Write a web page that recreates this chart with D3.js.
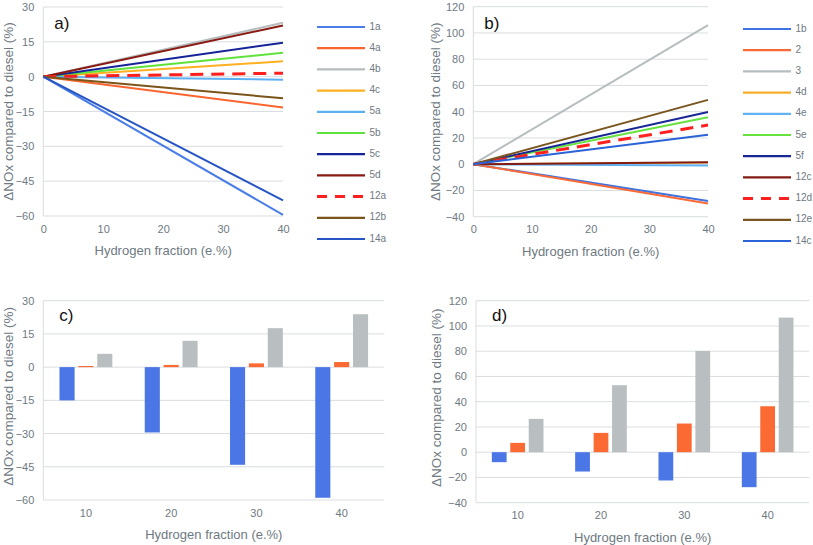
<!DOCTYPE html>
<html><head><meta charset="utf-8">
<script src="https://cdn.jsdelivr.net/npm/d3@7"></script>
<style>
body{margin:0;background:#fff;}
text{font-family:"Liberation Sans",Arial,sans-serif;}
</style>
</head><body>
<svg id="chart" width="813" height="545"></svg>
<script>
// ---------- DATA ----------
const fractionX = [0, 40];
const seriesA = ["1a","4a","4b","4c","5a","5b","5c","5d","12a","12b","14a"];
const valuesA = [[0,-59.5],[0,-13.3],[0,23.2],[0,6.6],[0,-1.3],[0,10.3],[0,14.6],[0,22.0],[0,1.5],[0,-9.3],[0,-53.3]];
const seriesB = ["1b","2","3","4d","4e","5e","5f","12c","12d","12e","14c"];
const valuesB = [[0,-28.0],[0,-30.0],[0,106.0],[0,1.2],[0,-1.0],[0,35.8],[0,39.8],[0,1.5],[0,29.8],[0,49.0],[0,22.5]];
const xTicksLine = [0,10,20,30,40];
const yTicksA = [-60,-45,-30,-15,0,15,30];
const yTicksB = [-40,-20,0,20,40,60,80,100,120];

const barCategories = ["10","20","30","40"];
const barSeries = ["blue","orange","gray"];
const blueC = [-15.0,-29.5,-44.1,-59.0];
const orangeC = [0.5,1.0,1.7,2.3];
const grayC = [6.0,11.9,17.6,23.9];
const blueD = [-7.9,-15.3,-22.4,-27.7];
const orangeD = [7.4,15.3,22.7,36.4];
const grayD = [26.4,53.1,80.2,106.6];

// ---------- STYLES ----------
const colorsA = ["#4a7de8","#f9652e","#b5bdbf","#ffb020","#5cb0f2","#5fe23a","#16249a","#8a1a12","#ff1f1f","#7a5418","#2655c4"];
const colorsB = ["#3f73e2","#fa6a36","#b5bdbf","#f6ae28","#62b2f2","#66e23e","#182696","#821c12","#ff1f1f","#7a5520","#2a62d8"];
const dashedA = "12a", dashedB = "12d";
const barColors = ["#4a76e6","#fb6a32","#b9bfc0"];
const txt = "#6e7982", grid = "#d9dde0";

const svg = d3.select("#chart");

function axesCommon(g, x0, x1, y, yTicks){
  g.selectAll(".grid").data(yTicks).join("line")
    .attr("x1", x0).attr("x2", x1)
    .attr("y1", d => y(d)).attr("y2", d => y(d))
    .attr("stroke", grid).attr("stroke-width", 1);
  g.append("line").attr("x1", x0).attr("x2", x0)
    .attr("y1", y(yTicks[0])).attr("y2", y(yTicks[yTicks.length-1]))
    .attr("stroke", grid);
  const ax = g.append("g").attr("transform", `translate(${x0},0)`)
    .call(d3.axisLeft(y).tickValues(yTicks).tickSize(0).tickPadding(9));
  ax.select(".domain").remove();
  ax.selectAll("text").attr("fill", txt).style("font-size","11px")
    .style("font-family","'Liberation Sans',Arial,sans-serif");
}

function titles(g, cx, xTitleY, yTitleX, cy, label, lx, ly){
  g.append("text").attr("x", cx).attr("y", xTitleY).attr("text-anchor","middle")
    .attr("dominant-baseline","middle").attr("fill", txt).style("font-size","13px")
    .text("Hydrogen fraction (e.%)");
  g.append("text").attr("transform", `translate(${yTitleX},${cy}) rotate(-90)`)
    .attr("text-anchor","middle").attr("dominant-baseline","middle")
    .attr("fill", txt).style("font-size","13.5px")
    .text("ΔNOx compared to diesel (%)");
  g.append("text").attr("x", lx).attr("y", ly).attr("fill","#111")
    .style("font-size","17px").text(label);
}

function linePanel(opts){
  const g = svg.append("g");
  const x = d3.scaleLinear().domain([0,40]).range([opts.x0, opts.x1]);
  const y = d3.scaleLinear().domain([opts.yTicks[0], opts.yTicks[opts.yTicks.length-1]]).range([opts.yb, opts.yt]);
  axesCommon(g, opts.x0, opts.x1, y, opts.yTicks);
  const xa = g.append("g").attr("transform", `translate(0,${opts.yb})`)
    .call(d3.axisBottom(x).tickValues(xTicksLine).tickSize(0).tickPadding(9));
  xa.select(".domain").remove();
  xa.selectAll("text").attr("fill", txt).style("font-size","11px")
    .style("font-family","'Liberation Sans',Arial,sans-serif");
  const line = d3.line().x((d,i) => x(fractionX[i])).y(d => y(d));
  opts.series.forEach((s, i) => {
    g.append("path").datum(opts.values[i]).attr("d", line)
      .attr("fill","none").attr("stroke", opts.colors[i])
      .attr("stroke-width", s === opts.dashed ? 3 : 2)
      .attr("stroke-dasharray", s === opts.dashed ? "13,8" : null);
  });
  // legend
  const lg = g.append("g");
  opts.series.forEach((s, i) => {
    const yy = opts.legY + i * opts.legStep;
    lg.append("line").attr("x1", opts.legX).attr("x2", opts.legX + 48)
      .attr("y1", yy).attr("y2", yy).attr("stroke", opts.colors[i])
      .attr("stroke-width", s === opts.dashed ? 3 : 2.2)
      .attr("stroke-dasharray", s === opts.dashed ? "10,8" : null);
    lg.append("text").attr("x", opts.legX + 52.5).attr("y", yy)
      .attr("dominant-baseline","middle").attr("fill", txt)
      .style("font-size","10px").text(s);
  });
  titles(g, (opts.x0+opts.x1)/2, opts.yb + 36, opts.yTitleX, (opts.yt+opts.yb)/2, opts.label, opts.x0 + 11, opts.yt + 22);
}

function barPanel(opts){
  const g = svg.append("g");
  const x = d3.scaleBand().domain(barCategories).range([opts.x0, opts.x1]).padding(0);
  const y = d3.scaleLinear().domain([opts.yTicks[0], opts.yTicks[opts.yTicks.length-1]]).range([opts.yb, opts.yt]);
  const bw = x.bandwidth();
  const x1 = d3.scaleBand().domain(barSeries).range([bw*0.19, bw*0.81]).paddingInner(0.2);
  axesCommon(g, opts.x0, opts.x1, y, opts.yTicks);
  const xa = g.append("g").attr("transform", `translate(0,${opts.yb})`)
    .call(d3.axisBottom(x).tickSize(0).tickPadding(9));
  xa.select(".domain").remove();
  xa.selectAll("text").attr("fill", txt).style("font-size","11px")
    .style("font-family","'Liberation Sans',Arial,sans-serif");
  opts.data.forEach((vals, si) => {
    g.selectAll(null).data(vals).join("rect")
      .attr("x", (d,i) => x(barCategories[i]) + x1(barSeries[si]))
      .attr("width", x1.bandwidth())
      .attr("y", d => y(Math.max(0,d)))
      .attr("height", d => Math.abs(y(d) - y(0)))
      .attr("fill", barColors[si]);
  });
  titles(g, (opts.x0+opts.x1)/2, opts.yb + 36, opts.yTitleX, (opts.yt+opts.yb)/2 - 4, opts.label, opts.x0 + 16, opts.yt + 20);
}

linePanel({x0:43.3, x1:283, yt:7, yb:216, yTicks:yTicksA, series:seriesA, values:valuesA,
  colors:colorsA, dashed:dashedA, legX:317, legY:27, legStep:21.2, yTitleX:9, label:"a)"});
linePanel({x0:473.3, x1:708, yt:6.7, yb:216.7, yTicks:yTicksB, series:seriesB, values:valuesB,
  colors:colorsB, dashed:dashedB, legX:743, legY:29, legStep:21.2, yTitleX:436, label:"b)"});
barPanel({x0:43.3, x1:384.3, yt:300.7, yb:500, yTicks:yTicksA, data:[blueC,orangeC,grayC], yTitleX:9, label:"c)"});
barPanel({x0:476, x1:809.3, yt:300.7, yb:502.7, yTicks:yTicksB, data:[blueD,orangeD,grayD], yTitleX:437, label:"d)"});
</script>
</body></html>
